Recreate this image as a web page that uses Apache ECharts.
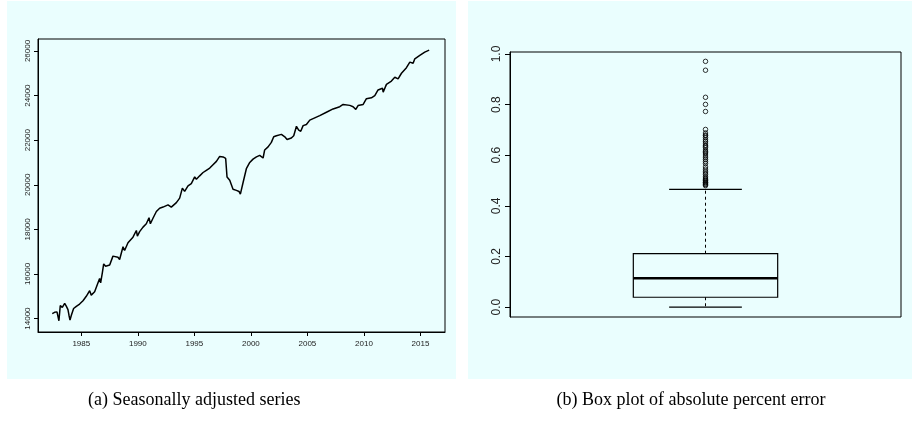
<!DOCTYPE html>
<html>
<head>
<meta charset="utf-8">
<script src="https://cdn.jsdelivr.net/npm/echarts@6/dist/echarts.min.js"></script>
<style>
html,body{margin:0;padding:0;background:#fff;}
#chart{width:912px;height:423px;}
</style>
</head>
<body>
<div id="chart"></div>
<script>
// ---- Data: seasonally adjusted series (year, value) ----
const seriesYears = [1982.43,1982.64,1982.85,1982.96,1983.02,1983.14,1983.32,1983.53,1983.67,1983.82,1983.91,1984.00,1984.12,1984.32,1984.56,1984.85,1985.15,1985.44,1985.74,1985.88,1986.18,1986.47,1986.62,1986.71,1986.86,1986.98,1987.15,1987.51,1987.80,1988.24,1988.39,1988.69,1988.83,1989.13,1989.57,1989.87,1989.96,1990.16,1990.46,1990.75,1990.99,1991.11,1991.34,1991.64,1991.93,1992.23,1992.67,1992.96,1993.11,1993.41,1993.70,1993.94,1994.14,1994.44,1994.73,1995.03,1995.18,1995.47,1995.77,1996.06,1996.36,1996.65,1996.95,1997.24,1997.54,1997.77,1997.89,1998.13,1998.42,1998.72,1998.95,1999.07,1999.31,1999.60,1999.90,2000.19,2000.49,2000.78,2001.08,2001.22,2001.52,2001.81,2002.02,2002.26,2002.70,2003.00,2003.20,2003.58,2003.79,2004.03,2004.23,2004.41,2004.62,2004.91,2005.21,2005.65,2006.09,2006.68,2007.27,2007.86,2008.16,2008.75,2009.04,2009.28,2009.48,2009.93,2010.22,2010.66,2010.96,2011.25,2011.64,2011.70,2011.99,2012.43,2012.73,2013.02,2013.11,2013.32,2013.76,2014.06,2014.35,2014.50,2014.94,2015.38,2015.77];
const seriesValues = [14225,14280,14300,14250,13900,14580,14500,14680,14560,14400,14150,13930,14150,14450,14550,14650,14800,15000,15250,15050,15200,15600,15800,15600,16050,16450,16350,16400,16800,16750,16650,17220,17050,17400,17650,17950,17700,17900,18100,18250,18520,18250,18500,18800,18950,19000,19100,19000,18980,19200,19400,19850,19700,19950,20050,20350,20250,20400,20550,20650,20750,20900,21050,21270,21250,21180,20350,20200,19800,19750,19700,19580,20100,20720,21000,21150,21250,21320,21200,21560,21700,21900,22150,22200,22260,22150,22030,22100,22200,22620,22450,22400,22650,22700,22900,23000,23100,23250,23400,23500,23600,23560,23500,23380,23550,23600,23860,23900,24000,24250,24330,24150,24500,24650,24820,24750,24700,25000,25250,25500,25450,25650,25800,25950,26040];
const xTickYears = [1985,1990,1995,2000,2005,2010,2015];
const yTickValues = [14000,16000,18000,20000,22000,24000,26000];

// ---- Data: box plot of absolute percent error ----
const boxStats = [0.0, 0.039, 0.114, 0.211, 0.465]; // min, Q1, median, Q3, max
const outlierValues = [0.971,0.936,0.829,0.801,0.773,0.702,0.688,0.680,0.677,0.670,0.661,0.655,0.648,0.640,0.636,0.630,0.621,0.615,0.610,0.605,0.597,0.590,0.583,0.575,0.567,0.554,0.545,0.537,0.530,0.524,0.515,0.510,0.505,0.501,0.498,0.493,0.491,0.487,0.484,0.480];
const boxTickValues = [0.0,0.2,0.4,0.6,0.8,1.0];

const panelBg = '#eafefe';
const chart = echarts.init(document.getElementById('chart'), null, {renderer:'canvas'});

const option = {
  backgroundColor: '#ffffff',
  animation: false,
  graphic: [
    {type:'rect', z:-10, shape:{x:7, y:1, width:449, height:378}, style:{fill:panelBg}},
    {type:'rect', z:-10, shape:{x:468, y:1, width:444, height:378}, style:{fill:panelBg}},
    {type:'text', x:88, y:391, style:{text:'(a) Seasonally adjusted series', font:'18px "Liberation Serif", serif', fill:'#000', textAlign:'left'}},
    {type:'text', x:691, y:391, style:{text:'(b) Box plot of absolute percent error', font:'18px "Liberation Serif", serif', fill:'#000', textAlign:'center'}}
  ],
  grid: [
    {left:38, top:39, width:407, height:293, show:true, borderColor:'#000', borderWidth:1, backgroundColor:'transparent'},
    {left:510, top:52, width:391, height:265, show:true, borderColor:'#000', borderWidth:1, backgroundColor:'transparent'}
  ],
  xAxis: [
    {type:'value', gridIndex:0, min:1981.17, max:2017.17,
     axisLine:{show:true, onZero:false, lineStyle:{color:'#000', width:1}},
     axisTick:{show:true, length:4, customValues:xTickYears, lineStyle:{color:'#000'}},
     axisLabel:{show:true, customValues:xTickYears, margin:8, fontSize:8, color:'#222', fontFamily:'"Liberation Sans", Arial, sans-serif',
       formatter: v => String(Math.round(v))},
     splitLine:{show:false}},
    {type:'value', gridIndex:1, min:0.5, max:1.5, show:false, splitLine:{show:false}}
  ],
  yAxis: [
    {type:'value', gridIndex:0, min:13398, max:26536,
     axisLine:{show:true, onZero:false, lineStyle:{color:'#000', width:1}},
     axisTick:{show:true, length:4, customValues:yTickValues, lineStyle:{color:'#000'}},
     axisLabel:{show:true, customValues:yTickValues, rotate:90, margin:6, fontSize:8, color:'#222', fontFamily:'"Liberation Sans", Arial, sans-serif',
       formatter: v => String(Math.round(v))},
     splitLine:{show:false}},
    {type:'value', gridIndex:1, min:-0.039, max:1.008,
     axisLine:{show:true, onZero:false, lineStyle:{color:'#000', width:1}},
     axisTick:{show:true, length:5, customValues:boxTickValues, lineStyle:{color:'#000'}},
     axisLabel:{show:true, customValues:boxTickValues, rotate:90, margin:7, fontSize:12, color:'#222', fontFamily:'"Liberation Sans", Arial, sans-serif',
       formatter: v => Number(v).toFixed(1)},
     splitLine:{show:false}}
  ],
  series: [
    {type:'line', xAxisIndex:0, yAxisIndex:0, showSymbol:false, symbol:'none',
     data: seriesYears.map((y,i)=>[y, seriesValues[i]]),
     lineStyle:{color:'#000', width:1.5}},
    {type:'custom', xAxisIndex:1, yAxisIndex:1,
     data: [[1].concat(boxStats)],
     renderItem: function(params, api){
       const x = api.value(0);
       const lo = api.value(1), q1 = api.value(2), med = api.value(3), q3 = api.value(4), hi = api.value(5);
       const hw = 0.1846, cw = 0.093;
       const bl = api.coord([x-hw, q1]), tr = api.coord([x+hw, q3]);
       const mL = api.coord([x-hw, med]), mR = api.coord([x+hw, med]);
       const c = api.coord([x, hi]), cq3 = api.coord([x, q3]), cq1 = api.coord([x, q1]), cl = api.coord([x, lo]);
       const capHL = api.coord([x-cw, hi]), capHR = api.coord([x+cw, hi]);
       const capLL = api.coord([x-cw, lo]), capLR = api.coord([x+cw, lo]);
       const solid = {stroke:'#000', lineWidth:1.2, fill:null};
       const dashed = {stroke:'#000', lineWidth:1, lineDash:[3,3], fill:null};
       return {type:'group', children:[
         {type:'rect', shape:{x:bl[0], y:tr[1], width:tr[0]-bl[0], height:bl[1]-tr[1]}, style:{stroke:'#000', lineWidth:1.2, fill:'transparent'}},
         {type:'line', shape:{x1:mL[0], y1:mL[1], x2:mR[0], y2:mR[1]}, style:{stroke:'#000', lineWidth:2.6}},
         {type:'line', shape:{x1:cq3[0], y1:cq3[1], x2:c[0], y2:c[1]}, style:dashed},
         {type:'line', shape:{x1:cq1[0], y1:cq1[1], x2:cl[0], y2:cl[1]}, style:dashed},
         {type:'line', shape:{x1:capHL[0], y1:capHL[1], x2:capHR[0], y2:capHR[1]}, style:solid},
         {type:'line', shape:{x1:capLL[0], y1:capLL[1], x2:capLR[0], y2:capLR[1]}, style:solid}
       ]};
     }},
    {type:'scatter', xAxisIndex:1, yAxisIndex:1, symbol:'circle', symbolSize:4.5,
     data: outlierValues.map(v=>[1, v]),
     itemStyle:{color:'transparent', borderColor:'#000', borderWidth:1}}
  ]
};
chart.setOption(option);
</script>
</body>
</html>
